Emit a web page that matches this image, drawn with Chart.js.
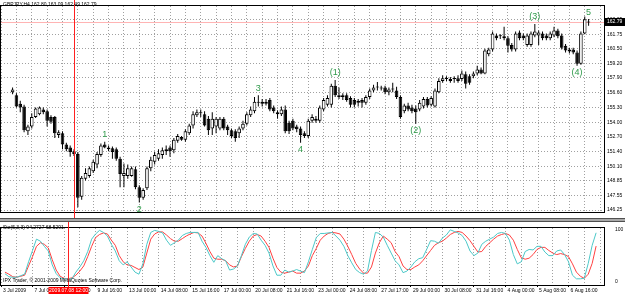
<!DOCTYPE html>
<html>
<head>
<meta charset="utf-8">
<script src="https://cdn.jsdelivr.net/npm/chart.js@4.4.0/dist/chart.umd.min.js"></script>
<style>
  html, body { margin: 0; padding: 0; background: #fff; }
  #wrap { position: relative; width: 625px; height: 295px; overflow: hidden; background: #fff; }
  #main { position: absolute; left: 0; top: 0; }
  #sep { position: absolute; left: 0; top: 218px; width: 625px; height: 4px; box-sizing: border-box;
         background: #a8a8a8; border-top: 1px solid #505050; border-bottom: 1px solid #505050; }
  #osc { position: absolute; left: 0; top: 222px; }
</style>
</head>
<body>
<div id="wrap">
  <canvas id="main" width="625" height="218"></canvas>
  <div id="sep"></div>
  <canvas id="osc" width="625" height="73"></canvas>
</div>
<script>
// ---- GBPJPY H4 candles, one entry per bar ----
const opens = [
  156.63, 156.38, 155.63, 155.37, 153.20, 153.62, 154.45, 154.70, 155.12, 154.96,
  154.45, 154.45, 152.86, 153.03, 152.03, 151.77, 151.44, 151.19, 147.42, 149.01,
  149.26, 149.68, 150.27, 151.10, 152.03, 151.77, 151.69, 151.61, 150.77, 149.26,
  149.26, 149.26, 149.85, 148.26, 147.34, 148.18, 149.93, 150.52, 150.77, 151.10,
  151.61, 151.77, 151.52, 152.36, 152.70, 152.44, 153.03, 153.70, 154.62, 154.79,
  154.70, 154.29, 153.45, 153.62, 153.45, 154.29, 153.62, 153.28, 153.20, 153.03,
  153.45, 153.87, 154.62, 154.96, 155.71, 155.79, 155.63, 155.96, 155.29, 154.87,
  154.70, 155.12, 153.95, 154.12, 153.62, 153.45, 153.03, 152.78, 154.12, 154.29,
  154.12, 155.12, 155.54, 155.54, 157.21, 156.38, 156.38, 156.38, 156.13, 155.96,
  155.88, 155.96, 155.71, 156.21, 156.80, 157.05, 156.96, 157.05, 156.63, 156.88,
  156.80, 156.21, 154.96, 155.46, 155.29, 155.21, 155.12, 155.37, 156.04, 155.54,
  155.37, 156.63, 157.63, 157.80, 157.80, 157.80, 157.88, 157.80, 158.22, 158.05,
  158.05, 158.30, 158.64, 158.30, 159.98, 160.40, 161.65, 161.57, 161.57, 161.40,
  160.81, 160.40, 161.90, 161.65, 160.81, 160.81, 161.65, 161.65, 161.82, 161.65,
  161.40, 161.65, 162.07, 161.65, 160.73, 160.40, 160.40, 160.14, 159.14, 161.82,
  162.80
];
const highs = [
  157.05, 156.55, 155.88, 155.54, 153.78, 154.79, 155.29, 155.37, 155.29, 155.12,
  154.62, 154.54, 153.28, 153.20, 152.19, 151.94, 151.61, 151.36, 149.26, 149.93,
  150.10, 150.69, 151.36, 152.11, 152.28, 151.94, 151.86, 151.77, 150.94, 150.35,
  150.27, 150.10, 150.10, 148.43, 148.18, 150.10, 150.94, 151.36, 151.61, 151.77,
  151.94, 151.94, 152.61, 152.95, 152.78, 153.37, 153.87, 154.96, 155.12, 155.12,
  154.96, 154.54, 154.87, 154.45, 154.45, 154.45, 153.78, 153.45, 153.37, 153.62,
  154.12, 154.87, 155.37, 156.21, 156.38, 156.04, 156.04, 156.13, 155.46, 155.04,
  155.37, 155.46, 154.12, 154.29, 153.78, 153.62, 153.20, 154.29, 154.70, 154.54,
  155.46, 156.13, 156.38, 157.38, 157.72, 157.05, 156.55, 156.55, 156.29, 156.13,
  156.04, 156.13, 156.38, 156.96, 157.30, 157.55, 157.21, 157.21, 157.05, 157.47,
  157.13, 156.38, 155.63, 155.71, 155.54, 155.46, 155.96, 156.21, 156.21, 156.29,
  156.96, 157.88, 158.14, 158.05, 157.97, 158.05, 158.14, 158.55, 158.47, 158.22,
  158.47, 158.97, 158.81, 160.48, 160.56, 161.99, 161.82, 161.74, 162.40, 161.57,
  160.98, 161.99, 162.07, 161.82, 161.82, 161.99, 162.66, 162.07, 161.99, 161.82,
  161.99, 162.40, 162.24, 161.82, 160.90, 160.56, 160.56, 160.31, 161.99, 163.32,
  163.09
];
const lows = [
  156.46, 155.29, 154.87, 153.11, 152.86, 153.45, 154.37, 154.62, 154.70, 153.62,
  153.87, 152.61, 152.61, 151.61, 151.44, 150.94, 151.02, 146.50, 147.17, 148.85,
  149.10, 149.52, 149.93, 150.94, 151.69, 151.44, 150.77, 150.60, 148.26, 148.26,
  149.01, 149.18, 148.09, 146.92, 147.17, 148.01, 149.68, 150.27, 150.60, 150.77,
  151.10, 150.94, 151.27, 152.19, 152.36, 152.28, 152.86, 153.45, 154.45, 154.45,
  153.62, 152.86, 152.86, 153.03, 153.28, 153.28, 152.86, 152.61, 152.28, 152.61,
  153.28, 153.70, 154.45, 154.79, 155.37, 155.37, 155.46, 154.96, 154.79, 154.29,
  154.54, 153.03, 152.95, 153.28, 153.11, 152.19, 152.61, 152.61, 153.95, 153.95,
  153.95, 154.96, 155.37, 155.29, 156.21, 156.04, 155.96, 155.79, 155.29, 155.29,
  155.37, 155.29, 155.54, 156.04, 156.63, 156.80, 156.80, 156.46, 156.38, 156.63,
  156.04, 154.29, 154.79, 154.96, 154.79, 153.87, 154.96, 155.21, 155.29, 155.37,
  155.29, 156.55, 157.47, 157.63, 157.47, 157.47, 157.47, 157.63, 156.96, 157.30,
  157.88, 158.14, 158.22, 158.22, 159.81, 160.23, 161.23, 161.32, 161.23, 160.14,
  160.23, 160.23, 161.23, 161.23, 160.65, 160.65, 161.48, 160.81, 161.23, 161.23,
  161.23, 161.48, 161.40, 160.40, 160.14, 160.06, 159.98, 158.97, 159.06, 161.74,
  162.49
];
const closes = [
  156.88, 155.37, 155.29, 153.28, 153.62, 154.45, 155.21, 155.29, 154.87, 154.12,
  154.04, 153.03, 153.11, 152.03, 151.61, 151.36, 151.19, 147.34, 149.10, 149.52,
  149.93, 150.52, 151.19, 151.94, 151.77, 151.61, 151.36, 150.77, 149.43, 149.52,
  149.93, 149.93, 148.26, 147.34, 148.01, 149.93, 150.69, 151.10, 151.27, 151.52,
  151.44, 151.44, 152.44, 152.78, 152.44, 153.20, 153.70, 154.70, 154.87, 154.87,
  153.70, 153.28, 154.29, 154.29, 154.29, 153.45, 153.28, 152.78, 152.61, 153.45,
  153.87, 154.70, 155.12, 155.79, 155.79, 155.63, 155.79, 155.12, 154.96, 154.70,
  155.12, 153.20, 153.20, 153.45, 153.37, 152.86, 152.78, 154.12, 154.45, 154.12,
  155.29, 155.96, 156.13, 157.21, 156.38, 156.21, 156.21, 155.96, 155.54, 155.54,
  155.71, 155.71, 156.21, 156.80, 157.05, 157.07, 157.05, 156.63, 156.88, 156.96,
  156.21, 154.45, 155.46, 155.12, 154.96, 154.87, 155.71, 156.04, 155.46, 156.13,
  156.80, 157.63, 157.88, 157.88, 157.63, 157.82, 157.63, 158.30, 157.38, 157.47,
  158.30, 158.64, 158.30, 160.31, 160.40, 161.82, 161.40, 161.59, 161.40, 160.73,
  160.40, 161.82, 161.40, 161.40, 161.65, 161.82, 161.99, 161.90, 161.40, 161.40,
  161.82, 162.07, 161.57, 160.56, 160.31, 160.23, 160.14, 159.14, 161.82, 163.07,
  162.79
];

// ---- Stochastic (5,3,3): %K main line and %D signal line ----
const stochK = [
  15, 9, 8, 8, 11, 14, 38, 60, 82, 78,
  68, 59, 32, 15, 7, 5, 5, 5, 18, 28,
  40, 58, 82, 92, 99, 95, 88, 72, 59, 40,
  32, 38, 28, 18, 14, 34, 72, 95, 99, 97,
  94, 80, 70, 75, 80, 89, 93, 95, 95, 95,
  78, 66, 50, 37, 50, 44, 40, 22, 24, 30,
  50, 72, 86, 93, 92, 80, 70, 55, 30, 12,
  12, 22, 18, 20, 23, 20, 17, 38, 62, 85,
  93, 93, 94, 95, 88, 80, 68, 50, 36, 23,
  17, 14, 20, 60, 95, 93, 86, 70, 55, 40,
  32, 17, 20, 28, 38, 44, 46, 62, 79, 78,
  74, 84, 90, 100, 97, 94, 89, 78, 59, 50,
  55, 72, 78, 82, 86, 93, 95, 93, 80, 52,
  34, 38, 58, 62, 61, 68, 68, 57, 50, 50,
  59, 61, 52, 38, 12, 5, 5, 6, 35, 70,
  94.2727
];
const stochD = [
  18, 14, 9, 8, 10, 12, 30, 48, 68, 75,
  72, 65, 42, 22, 10, 6, 5, 7, 12, 20,
  30, 48, 68, 85, 91, 94, 92, 80, 70, 50,
  38, 32, 31, 27, 23, 28, 55, 82, 92, 96,
  96, 90, 83, 78, 78, 83, 88, 92, 95, 94,
  88, 74, 58, 45, 43, 43, 40, 32, 28, 30,
  48, 64, 78, 88, 91, 88, 78, 66, 45, 27,
  18, 16, 18, 20, 16, 16, 20, 30, 50, 64,
  80, 88, 93, 95, 94, 92, 82, 68, 52, 35,
  24, 16, 16, 28, 55, 75, 88, 82, 75, 58,
  48, 30, 23, 23, 28, 32, 40, 50, 60, 70,
  75, 78, 84, 91, 95, 97, 95, 88, 79, 68,
  57, 58, 68, 75, 82, 88, 91, 93, 90, 80,
  62, 46, 43, 45, 52, 62, 66, 66, 60, 55,
  52, 54, 52, 48, 34, 18, 10, 6, 14, 35,
  68.5291
];

// ---- axis text ----
const priceTicks = [146.25, 147.55, 148.85, 150.10, 151.40, 152.70, 154.00, 155.30,
                    156.60, 157.90, 159.20, 160.50, 161.75, 163.05];
const timeTickBars = [-1, 7, 15, 23, 31, 39, 47, 55, 63, 71, 79, 87, 95, 103, 111, 119, 127, 135, 143];
const timeTickLabels = ['3 Jul 2009', '7 Jul 08:00', '8 Jul 16:00', '9 Jul 16:00', '13 Jul 00:00',
  '14 Jul 08:00', '15 Jul 16:00', '17 Jul 00:00', '20 Jul 08:00', '21 Jul 16:00', '23 Jul 00:00',
  '24 Jul 08:00', '27 Jul 17:00', '29 Jul 00:00', '30 Jul 08:00', '31 Jul 16:00', '4 Aug 00:00',
  '5 Aug 08:00', '6 Aug 16:00'];

// Elliott wave marks: bar index, text, side of the candle
const waveBars = [24, 33, 64, 75, 84, 105, 136, 147, 150];
const waveTexts = ['1', '2', '3', '4', '(1)', '(2)', '(3)', '(4)', '5'];
const waveSides = ['up', 'down', 'up', 'down', 'up', 'down', 'up', 'down', 'up'];

const crossBar = 16;
const crossLabel = '2009.07.08 12:00';

const FONT = "'Liberation Sans', Arial, sans-serif";
const SMALL = 5;
const GRID = '#a0a0a0';

const idx = opens.map((_, i) => i);
const gridBars = [];
for (let b = -1; b <= 151; b += 4) gridBars.push(b);

const xBase = {
  type: 'linear', min: -1, max: 152,
  border: { display: false, dash: [1, 2] },
  grid: { color: GRID, borderDash: [1, 2], drawTicks: false },
  afterBuildTicks: s => { s.ticks = gridBars.map(v => ({ value: v })); }
};

const mainDecor = {
  id: 'mainDecor',
  beforeDatasetsDraw(chart) {
    const { ctx, chartArea: a, scales: { y } } = chart;
    const by = Math.round(y.getPixelForValue(closes[closes.length - 1])) + 0.5;
    ctx.save();
    ctx.strokeStyle = '#ffb4b4';
    ctx.lineWidth = 1;
    ctx.beginPath(); ctx.moveTo(a.left, by); ctx.lineTo(a.right, by); ctx.stroke();
    ctx.restore();
  },
  afterDatasetsDraw(chart) {
    const { ctx, chartArea: a, scales: { x, y } } = chart;
    ctx.save();
    // frame
    ctx.strokeStyle = '#000';
    ctx.lineWidth = 1;
    ctx.strokeRect(a.left - 0.5, a.top - 0.5, a.right - a.left + 1, a.bottom - a.top + 1);
    // crosshair
    const cx = Math.round(x.getPixelForValue(crossBar)) + 0.5;
    ctx.strokeStyle = '#ff2020';
    ctx.beginPath(); ctx.moveTo(cx, 0); ctx.lineTo(cx, chart.height); ctx.stroke();
    // wave counts
    ctx.font = '9px ' + FONT;
    ctx.fillStyle = '#2f9a4a';
    ctx.textAlign = 'center';
    ctx.textBaseline = 'middle';
    waveBars.forEach((b, k) => {
      const px = x.getPixelForValue(b);
      const py = waveSides[k] === 'up' ? y.getPixelForValue(highs[b]) - 7 : y.getPixelForValue(lows[b]) + 7;
      ctx.fillText(waveTexts[k], px, py);
    });
    // title
    ctx.font = SMALL + 'px ' + FONT;
    ctx.fillStyle = '#000';
    ctx.textAlign = 'left';
    const last = opens.length - 1;
    ctx.fillText('GBPJPY,H4 ' + [opens[last], highs[last], lows[last], closes[last]].map(v => v.toFixed(2)).join(' '), 3, 5);
    // bid box on the price scale
    const by = Math.round(y.getPixelForValue(closes[last]));
    ctx.fillStyle = '#000';
    ctx.fillRect(a.right + 1, by - 4, chart.width - a.right - 1, 8);
    ctx.fillStyle = '#fff';
    ctx.fillText(closes[last].toFixed(2), a.right + 3, by);
    ctx.restore();
  }
};

new Chart(document.getElementById('main'), {
  type: 'bar',
  data: {
    datasets: [
      {
        label: 'body', order: 0, grouped: false,
        data: idx.map(i => ({ x: i, y: [opens[i], closes[i]] })),
        backgroundColor: idx.map(i => closes[i] >= opens[i] ? '#ffffff' : '#000000'),
        borderColor: '#000', borderWidth: 1, borderSkipped: false,
        barThickness: 3.6, minBarLength: 1, inflateAmount: 0
      },
      {
        label: 'wick', order: 1, grouped: false,
        data: idx.map(i => ({ x: i, y: [lows[i], highs[i]] })),
        backgroundColor: '#000', borderWidth: 0, barThickness: 1, inflateAmount: 0
      }
    ]
  },
  options: {
    responsive: false, animation: false, events: [],
    layout: { padding: { left: 1, top: 1, right: 0, bottom: 0 } },
    plugins: { legend: { display: false }, tooltip: { enabled: false } },
    scales: {
      x: { ...xBase, ticks: { display: false }, afterFit: s => { s.height = 0; } },
      y: {
        position: 'right', min: 146.08, max: 164.24,
        border: { display: false, dash: [1, 2] },
        grid: { color: GRID, borderDash: [1, 2], drawTicks: false },
        afterBuildTicks: s => { s.ticks = priceTicks.map(v => ({ value: v })); },
        afterFit: s => { s.width = 21; },
        ticks: { font: { family: FONT, size: SMALL }, color: '#000', padding: 3, callback: v => v.toFixed(2) }
      }
    }
  },
  plugins: [mainDecor]
});

const oscDecor = {
  id: 'oscDecor',
  afterDatasetsDraw(chart) {
    const { ctx, chartArea: a, scales: { x } } = chart;
    ctx.save();
    ctx.strokeStyle = '#000';
    ctx.lineWidth = 1;
    ctx.strokeRect(a.left - 0.5, a.top - 0.5, a.right - a.left + 1, a.bottom - a.top + 1);
    const cx = Math.round(x.getPixelForValue(crossBar)) + 0.5;
    ctx.strokeStyle = '#ff2020';
    ctx.beginPath(); ctx.moveTo(cx, 0); ctx.lineTo(cx, a.bottom + 2); ctx.stroke();
    ctx.font = SMALL + 'px ' + FONT;
    ctx.textBaseline = 'middle';
    ctx.textAlign = 'left';
    ctx.fillStyle = '#000';
    ctx.fillText('Sto(5,3,3) ' + stochK[stochK.length - 1].toFixed(4) + ' ' + stochD[stochD.length - 1].toFixed(4), 3, 6);
    ctx.fillText('IPX Trader, \u00a9 2001-2009 MetaQuotes Software Corp.', 3, a.bottom - 4);
    // crosshair time box
    ctx.fillStyle = '#ff0000';
    ctx.fillRect(cx - 20, a.bottom + 2, 40, 7);
    ctx.fillStyle = '#fff';
    ctx.textAlign = 'center';
    ctx.fillText(crossLabel, cx, a.bottom + 5.5);
    ctx.restore();
  }
};

new Chart(document.getElementById('osc'), {
  type: 'line',
  data: {
    datasets: [
      {
        label: 'Main', data: idx.map(i => ({ x: i, y: stochK[i] })),
        borderColor: '#4cc8c8', borderWidth: 1, pointRadius: 0, tension: 0
      },
      {
        label: 'Signal', data: idx.map(i => ({ x: i, y: stochD[i] })),
        borderColor: '#ff4040', borderWidth: 1, pointRadius: 0, tension: 0
      }
    ]
  },
  options: {
    responsive: false, animation: false, events: [],
    layout: { padding: { left: 1, top: 1, right: 0, bottom: 0 } },
    plugins: { legend: { display: false }, tooltip: { enabled: false } },
    scales: {
      x: {
        ...xBase,
        grid: {
          color: GRID, borderDash: [1, 2], drawTicks: true, tickLength: 2,
          tickColor: c => (timeTickBars.includes(c.tick.value) ? '#000' : 'rgba(0,0,0,0)')
        },
        afterFit: s => { s.height = 10; },
        ticks: {
          font: { family: FONT, size: SMALL }, color: '#000', padding: 1,
          autoSkip: false, maxRotation: 0, align: 'start', labelOffset: 2,
          callback: v => { const k = timeTickBars.indexOf(v); return k >= 0 ? timeTickLabels[k] : ''; }
        },
        afterBuildTicks: s => {
          const all = gridBars.concat(timeTickBars.filter(b => !gridBars.includes(b)));
          s.ticks = all.sort((p, q) => p - q).map(v => ({ value: v }));
        }
      },
      y: {
        position: 'right', min: -7, max: 103.6,
        border: { display: false },
        grid: { display: false },
        afterBuildTicks: s => { s.ticks = [{ value: 0 }, { value: 100 }]; },
        afterFit: s => { s.width = 21; },
        ticks: { font: { family: FONT, size: SMALL }, color: '#000', padding: 3 }
      }
    }
  },
  plugins: [oscDecor]
});
</script>
</body>
</html>
